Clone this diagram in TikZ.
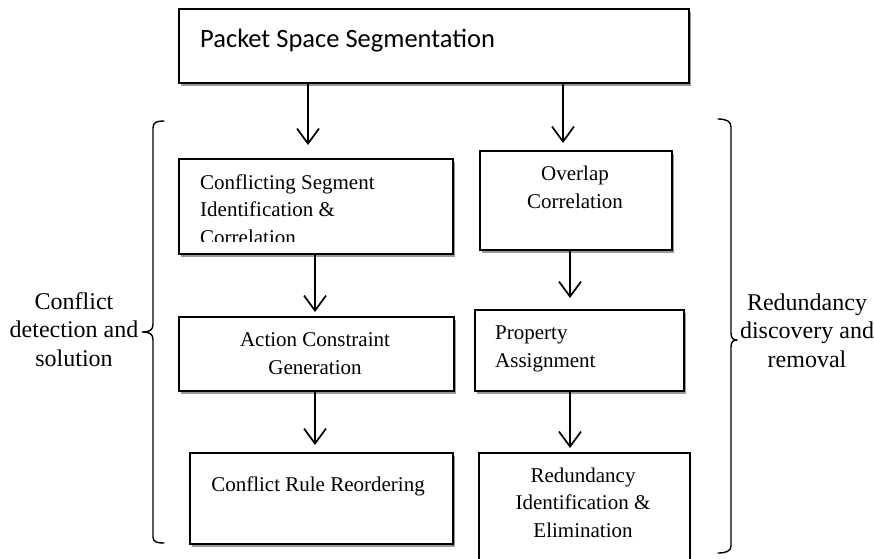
\documentclass[tikz,border=0pt]{standalone}
\usepackage{fontspec}
\setmainfont{Liberation Serif}
\newfontfamily\headfont{Carlito}
\usetikzlibrary{arrows.meta,shadows}

\begin{document}
\begin{tikzpicture}[x=1pt,y=-1pt,
  stagebox/.style={draw, line width=1.7pt, fill=white, rectangle, inner sep=0pt, anchor=north west},
  shadowed/.style={drop shadow={shadow xshift=2.5pt, shadow yshift=-3pt, fill=black!40, opacity=1}},
  boxtext/.style={inner sep=0pt, anchor=base, font=\fontsize{21}{27.5}\selectfont},
  sidetext/.style={inner sep=0pt, anchor=base, align=center, font=\fontsize{24}{28.5}\selectfont},
  flow/.style={line width=1.7pt, -{Straight Barb[length=15pt, width=22pt, line width=1.7pt]}},
  brace/.style={line width=1.4pt, line cap=round, line join=round}]

\useasboundingbox (0,0) rectangle (874,558);

% top stage
\node[stagebox, shadowed, minimum width=510pt, minimum height=74pt] (seg) at (178,8) {};
\node[inner sep=0pt, anchor=base west, font=\headfont\fontsize{26.5}{30}\selectfont] (segt) at (200,47) {Packet Space Segmentation};

% left column: conflict handling (multi-line labels are placed by their last baseline)
\node[stagebox, shadowed, minimum width=274pt, minimum height=95pt] (csi) at (178,158) {};
\begin{scope}
  \clip (178,158) rectangle (452,241);
  \node[boxtext, anchor=base west, align=left] (csit) at (200,244) {Conflicting Segment\\Identification \&\\Correlation};
\end{scope}

\node[stagebox, shadowed, minimum width=275pt, minimum height=74pt] (acg) at (178,316) {};
\node[boxtext, align=center] (acgt) at (315,374) {Action Constraint\\Generation};

\node[stagebox, shadowed, minimum width=263pt, minimum height=91pt] (crr) at (189,452) {};
\node[boxtext] (crrt) at (318,491) {Conflict Rule Reordering};

% right column: redundancy handling
\node[stagebox, shadowed, minimum width=192pt, minimum height=99pt] (ovc) at (479,150) {};
\node[boxtext, align=center] (ovct) at (575,208) {Overlap\\Correlation};

\node[stagebox, shadowed, minimum width=209pt, minimum height=81pt] (pra) at (474,309) {};
\node[boxtext, anchor=base west, align=left] (prat) at (495,367) {Property\\Assignment};

\node[stagebox, minimum width=211pt, minimum height=140pt] (rie) at (478,452) {};
\node[boxtext, align=center] (riet) at (583,537) {Redundancy\\Identification \&\\Elimination};

% flow arrows
\draw[flow] (seg.south -| 308,0) -- ([yshift=13pt]csi.north -| 308,0);
\draw[flow] (seg.south -| 563,0) -- ([yshift=7pt]ovc.north -| 563,0);
\draw[flow] (csi.south -| 315,0) -- ([yshift=4pt]acg.north -| 315,0);
\draw[flow] (ovc.south -| 570,0) -- ([yshift=11pt]pra.north -| 570,0);
\draw[flow] (acg.south -| 315,0) -- ([yshift=7pt]crr.north -| 315,0);
\draw[flow] (pra.south -| 570,0) -- ([yshift=4pt]rie.north -| 570,0);

% group braces and their labels
\coordinate (lb) at (142,332);
\draw[brace] (164,121) .. controls (157,121) and (153,122) .. (153,128)
  -- (153,324) .. controls (153,330) and (150,332) .. (lb)
  .. controls (150,332) and (153,334) .. (153,340)
  -- (153,537) .. controls (153,542) and (157,543) .. (164,543);
\node[sidetext] (lbt) at (74,366) {Conflict\\detection and\\solution};

\coordinate (rb) at (737,340);
\draw[brace] (718,119) .. controls (726,119) and (731,121) .. (731,127)
  -- (731,333) .. controls (731,338) and (733,340) .. (rb)
  .. controls (733,340) and (731,342) .. (731,347)
  -- (731,546) .. controls (731,551) and (726,553) .. (718,553);
\node[sidetext] (rbt) at (807,367) {Redundancy\\discovery and\\removal};
\end{tikzpicture}
\end{document}
